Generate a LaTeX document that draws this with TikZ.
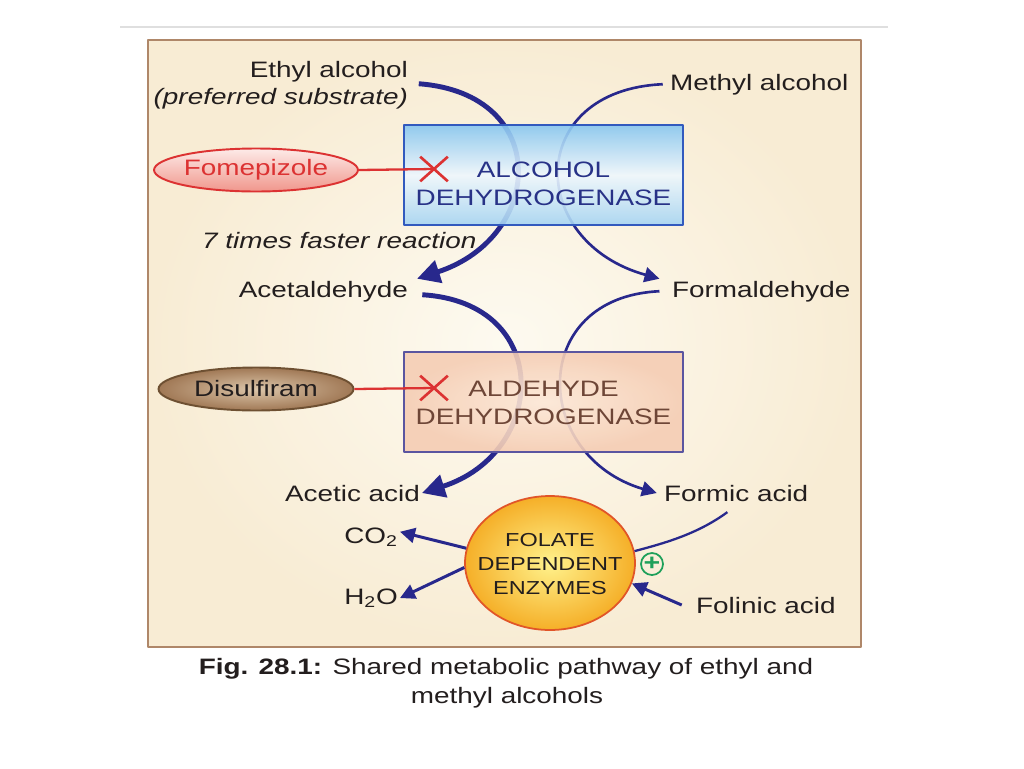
\documentclass[tikz,border=0pt]{standalone}
\usepackage{fontspec}
\setmainfont{Liberation Sans}[FakeStretch=1.25]
\usetikzlibrary{arrows.meta,shapes.geometric,shapes.misc}
\definecolor{arcblue}{RGB}{40,40,140}
\definecolor{txtdark}{RGB}{35,30,30}
\definecolor{bgin}{RGB}{253,250,240}
\definecolor{bgout}{RGB}{248,236,212}
\definecolor{framebrown}{RGB}{175,135,105}
\definecolor{adhtop}{RGB}{135,198,240}
\definecolor{adhmid}{RGB}{238,247,253}
\definecolor{adhbot}{RGB}{165,212,242}
\definecolor{adhline}{RGB}{50,90,190}
\definecolor{adhtext}{RGB}{40,50,135}
\definecolor{aldin}{RGB}{252,232,215}
\definecolor{aldout}{RGB}{245,205,180}
\definecolor{aldline}{RGB}{90,85,160}
\definecolor{aldtext}{RGB}{110,70,55}
\definecolor{inhred}{RGB}{220,50,50}
\definecolor{pinktop}{RGB}{253,235,232}
\definecolor{pinkbot}{RGB}{240,150,140}
\definecolor{brownin}{RGB}{220,198,170}
\definecolor{brownout}{RGB}{160,120,85}
\definecolor{brownline}{RGB}{110,80,50}
\definecolor{folin}{RGB}{255,242,140}
\definecolor{folout}{RGB}{245,175,40}
\definecolor{folline}{RGB}{225,85,40}
\definecolor{plusgreen}{RGB}{30,160,90}
\begin{document}
\begin{tikzpicture}[x=0.02cm, y=-0.02cm, font=\fontsize{12.7}{15.2}\selectfont, line join=round,
  lbl/.style={inner sep=1pt, text=txtdark},
  thickarc/.style={draw=arcblue, line width=2.8pt, -{Triangle[length=13pt,width=13pt]}},
  thinarc/.style={draw=arcblue, line width=1.5pt, -{Triangle[length=8.5pt,width=8.5pt]}},
  midarr/.style={draw=arcblue, line width=1.7pt, -{Triangle[length=8.5pt,width=8.5pt]}},
  enzbox/.style={rectangle, line width=1.1pt, minimum width=5.58cm, minimum height=2cm, inner sep=0pt, fill opacity=0.9},
  enztext/.style={align=center, inner sep=0pt, font=\fontsize{12.7}{16.1}\selectfont},
  drugell/.style={ellipse, line width=1.1pt, minimum width=3.9cm, minimum height=0.86cm, inner sep=0pt},
  inhline/.style={draw=inhred, line width=1.3pt},
  inhx/.style={cross out, draw=inhred, line width=1.5pt, minimum width=0.5cm, minimum height=0.44cm, inner sep=0pt}]
\useasboundingbox (0,0) rectangle (1024,768);
\fill[white] (0,0) rectangle (1024,768);
\draw[gray!25, line width=0.8pt] (120,27) -- (888,27);
\shade[inner color=bgin, outer color=bgout] (148,40) rectangle (861,647);
\draw[framebrown, line width=1.2pt] (148,40) rectangle (861,647);

% substrates and products
\node[lbl, anchor=base east] (ethyl) at (410,77) {Ethyl alcohol};
\node[lbl, anchor=base east, font=\fontsize{12.7}{15.2}\itshape] (pref) at (410,104) {(preferred substrate)};
\node[lbl, anchor=base west] (methyl) at (668,90) {Methyl alcohol};
\node[lbl, anchor=base west, font=\fontsize{12.7}{15.2}\itshape] (faster) at (200,248) {7 times faster reaction};
\node[lbl, anchor=base east] (acetald) at (410,297) {Acetaldehyde};
\node[lbl, anchor=base west] (formald) at (670,297) {Formaldehyde};
\node[lbl, anchor=base east] (acetic) at (422,501) {Acetic acid};
\node[lbl, anchor=base west] (formic) at (662,501) {Formic acid};
\node[lbl, anchor=base east] (co2) at (400,543) {CO\textsubscript{2}};
\node[lbl, anchor=base east] (h2o) at (400,604) {H\textsubscript{2}O};
\node[lbl, anchor=base west] (folinic) at (694,613) {Folinic acid};

% pathways
\draw[thickarc] ([xshift=5pt]ethyl.south east) .. controls +(133,10) and +(128,-42) .. ([xshift=4pt]acetald.north east);
\draw[thinarc] ([xshift=-3pt]methyl.west) .. controls +(-138,6) and +(-133,-37) .. ([xshift=-6pt]formald.north west);
\draw[thickarc] ([xshift=7pt,yshift=-2pt]acetald.east) .. controls +(132,8) and +(125,-40) .. (acetic.east);
\draw[thinarc] ([xshift=-6pt]formald.west) .. controls +(-132,6) and +(-125,-37) .. ([xshift=-3pt]formic.west);

% enzymes
\node[enzbox, draw=adhline, top color=adhtop, bottom color=adhbot, middle color=adhmid] (adh) at (543.5,175) {};
\node[enztext, text=adhtext] (adhlbl) at (543.5,184) {ALCOHOL\\DEHYDROGENASE};
\node[enzbox, draw=aldline, inner color=aldin, outer color=aldout] (aldh) at (543.5,402) {};
\node[enztext, text=aldtext] (aldhlbl) at (543.5,403) {ALDEHYDE\\DEHYDROGENASE};

% inhibitors
\node[drugell, draw=inhred, top color=pinktop, bottom color=pinkbot, text=inhred] (fome) at (256,170) {Fomepizole};
\node[inhx] (xadh) at (434,169) {};
\draw[inhline] (fome.east) -- (xadh.center);
\node[drugell, draw=brownline, inner color=brownin, outer color=brownout, text=txtdark] (disul) at (256,389) {Disulfiram};
\node[inhx] (xaldh) at (434,388) {};
\draw[inhline] (disul.east) -- (xaldh.center);

% folate step
\node[ellipse, draw=folline, line width=1pt, inner color=folin, outer color=folout, minimum width=3.4cm, minimum height=2.68cm, inner sep=0pt] (fde) at (550,563) {};
\node[align=center, inner sep=0pt, text=txtdark, font=\fontsize{10.7}{13.7}\selectfont] (fdelbl) at (550,564) {FOLATE\\DEPENDENT\\ENZYMES};
\draw[arcblue, line width=1.3pt] ([xshift=-5pt,yshift=-5pt]formic.south) .. controls +(-30,22) and +(30,-8) .. (fde.8);
\draw[midarr] (fde.170) -- ([yshift=3pt]co2.east);
\draw[midarr] (fde.183) -- (h2o.east);
\draw[midarr] ([xshift=-7pt]folinic.west) -- (fde.-14);
\node[circle, draw=plusgreen, line width=1pt, minimum size=0.44cm, inner sep=0pt, text=plusgreen, font=\fontsize{13}{13}\bfseries] (plus) at (652,564) {+};

% caption
\node[lbl, anchor=base] (cap1) at (506,674) {\textbf{Fig. 28.1:} Shared metabolic pathway of ethyl and};
\node[lbl, anchor=base] (cap2) at (507,703) {methyl alcohols};
\end{tikzpicture}
\end{document}
